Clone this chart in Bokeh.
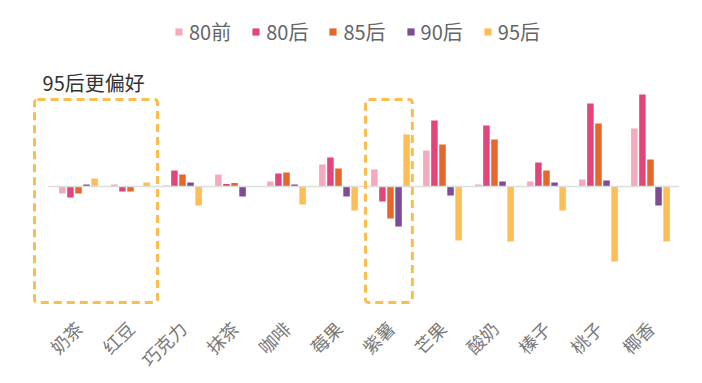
from bokeh.plotting import figure
from bokeh.models import (ColumnDataSource, FixedTicker, Legend, LegendItem,
                          BoxAnnotation, Label)
from bokeh.embed import file_html
from bokeh.resources import INLINE
import math

categories = ["奶茶", "红豆", "巧克力", "抹茶", "咖啡", "莓果", "紫薯", "芒果", "酸奶", "榛子", "桃子", "椰香"]
series_names = ["80前", "80后", "85后", "90后", "95后"]
s80q = [-7, 2, 1, 12, 5, 22, 17, 36, 2, 5, 7, 58]
s80h = [-11, -5, 16, 2.5, 13, 29, -15, 66, 61, 24, 83, 92]
s85h = [-7, -5, 12, 3.5, 14, 18, -32, 42, 47, 16, 63, 27]
s90h = [2, 0, 4, -10, 2, -10, -40, -9, 5, 4, 6, -19]
s95h = [8, 4, -19, 0, -18, -24, 52, -54, -55, -24, -75, -55]
colors = ["#F5A9BC", "#E2457C", "#E5682A", "#7D4C95", "#FDBE55"]
series = [s80q, s80h, s85h, s90h, s95h]

FONT = "Noto Sans CJK SC"

p = figure(frame_width=670, frame_height=297, output_backend="svg", toolbar_location=None,
           x_range=(-0.577, 12.308), y_range=(-124, 173),
           min_border_left=22, min_border_right=4, min_border_top=13,
           min_border_bottom=60)
p.outline_line_color = None
p.grid.visible = False
p.yaxis.visible = False
p.background_fill_color = "white"
p.border_fill_color = "white"

xc = [i + 0.5 for i in range(len(categories))]
offsets = [-0.31, -0.155, 0.0, 0.155, 0.31]
renderers = []
for name, vals, col, off in zip(series_names, series, colors, offsets):
    src = ColumnDataSource(dict(x=[v + off for v in xc], top=vals))
    r = p.vbar(x="x", top="top", bottom=0, width=0.125, source=src,
               fill_color=col, line_color=None)
    renderers.append((name, r))

# zero line
p.segment(x0=[-0.08], y0=[0], x1=[12.05], y1=[0], line_color="#DDDDDD", line_width=1.5)

# dashed highlight boxes
for l, r_ in [(-0.346, 2.02), (6.02, 6.92)]:
    p.add_layout(BoxAnnotation(left=l, right=r_, top=87, bottom=-116,
                               fill_alpha=0, line_color="#F9BE4E", line_alpha=1.0,
                               line_width=3, line_dash="8 5", border_radius=3))

p.add_layout(Label(x=-0.19, y=104, text="95后更偏好", text_baseline="middle",
                   text_font=FONT, text_font_size="20px", text_color="#333333"))

ax = p.xaxis[0]
ax.ticker = FixedTicker(ticks=xc)
ax.major_label_overrides = {x: c for x, c in zip(xc, categories)}
ax.major_label_orientation = math.pi / 4
ax.axis_line_color = None
ax.major_tick_line_color = None
ax.minor_tick_line_color = None
ax.major_label_text_font = FONT
ax.major_label_text_font_size = "18px"
ax.major_label_text_color = "#7A7A7A"
ax.major_label_standoff = 8

legend = Legend(items=[LegendItem(label=n, renderers=[r]) for n, r in renderers],
                orientation="horizontal", location="top_center",
                label_text_font=FONT, label_text_font_size="20px",
                label_text_color="#666666", glyph_width=9, glyph_height=9,
                label_standoff=6, spacing=20, padding=0, margin=4,
                border_line_alpha=0, background_fill_alpha=0)
p.add_layout(legend)

open("out.html", "w").write(file_html(p, INLINE))
